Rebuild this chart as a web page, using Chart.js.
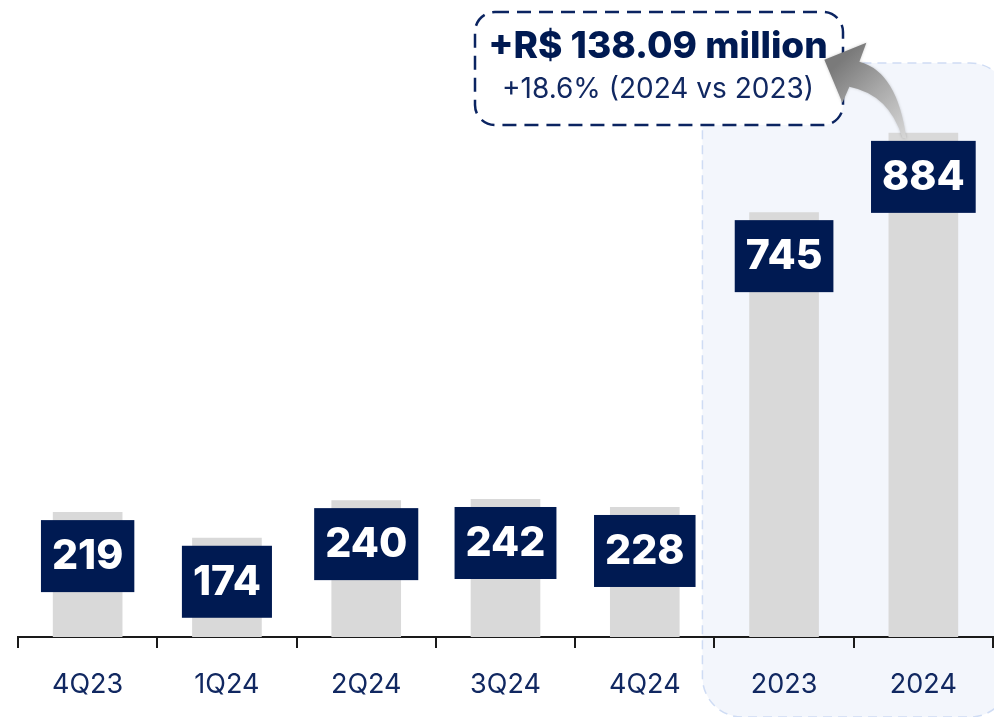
<!DOCTYPE html>
<html>
<head>
<meta charset="utf-8">
<script src="https://cdn.jsdelivr.net/npm/chart.js@4.4.1/dist/chart.umd.min.js"></script>
<style>
  html, body { margin: 0; padding: 0; background: #ffffff; }
  #wrap { width: 994px; height: 717px; position: relative; }
</style>
</head>
<body>
<div id="wrap"><canvas id="chart"></canvas></div>
<script>
// periods and values (R$ million)
const periods = ["4Q23", "1Q24", "2Q24", "3Q24", "4Q24", "2023", "2024"];
const values = [219, 174, 240, 242, 228, 745, 884];
const highlightFrom = 5; // annual columns get the shaded panel
const calloutTitle = "+R$ 138.09 million";
const calloutSub = "+18.6% (2024 vs 2023)";

const NAVY = "#001a52";
const LABEL_NAVY = "#112861";
const FONT = "Inter, 'Noto Sans', sans-serif";

function roundRect(ctx, x, y, w, h, r) {
  ctx.beginPath();
  ctx.moveTo(x + r, y);
  ctx.lineTo(x + w - r, y);
  ctx.arcTo(x + w, y, x + w, y + r, r);
  ctx.lineTo(x + w, y + h - r);
  ctx.arcTo(x + w, y + h, x + w - r, y + h, r);
  ctx.lineTo(x + r, y + h);
  ctx.arcTo(x, y + h, x, y + h - r, r);
  ctx.lineTo(x, y + r);
  ctx.arcTo(x, y, x + r, y, r);
  ctx.closePath();
}

// shaded panel behind the yearly bars (drawn before the axes)
const panelPlugin = {
  id: "panel",
  beforeDraw(chart) {
    const { ctx } = chart;
    const xs = chart.scales.x;
    const edge = (xs.getPixelForValue(highlightFrom - 1) + xs.getPixelForValue(highlightFrom)) / 2;
    const left = edge - 12, top = 63;
    ctx.save();
    roundRect(ctx, left, top, 1010 - left, 717 - top, 40);
    ctx.fillStyle = "#f3f6fc";
    ctx.fill();
    ctx.setLineDash([9, 6]);
    ctx.lineWidth = 1.5;
    ctx.strokeStyle = "#cfdcf4";
    ctx.stroke();
    ctx.restore();
  }
};

// navy value boxes sitting just under each bar top
const valueBoxPlugin = {
  id: "valueBoxes",
  afterDatasetsDraw(chart) {
    const { ctx } = chart;
    const meta = chart.getDatasetMeta(0);
    ctx.save();
    ctx.font = "800 41px " + FONT;
    ctx.textAlign = "center";
    ctx.textBaseline = "middle";
    meta.data.forEach((bar, i) => {
      const txt = String(values[i]);
      const w = ctx.measureText(txt).width + 22;
      const h = 72;
      const top = bar.y + 8;
      ctx.fillStyle = NAVY;
      ctx.fillRect(bar.x - w / 2, top, w, h);
      ctx.fillStyle = "#ffffff";
      ctx.fillText(txt, bar.x, top + h / 2 + 1);
    });
    ctx.restore();
  }
};

// dashed callout with curved arrow rising from the last bar
const calloutPlugin = {
  id: "callout",
  afterDraw(chart) {
    const { ctx } = chart;
    const bar = chart.getDatasetMeta(0).data[values.length - 1];
    const bx = bar.x, by = bar.y;

    // box
    const x0 = 475, y0 = 12, w = 368, h = 113;
    ctx.save();
    roundRect(ctx, x0, y0, w, h, 20);
    ctx.fillStyle = "#ffffff";
    ctx.fill();
    ctx.setLineDash([14, 8]);
    ctx.lineWidth = 2.5;
    ctx.strokeStyle = "#0b2461";
    ctx.stroke();
    ctx.setLineDash([]);
    ctx.textAlign = "center";
    ctx.textBaseline = "middle";
    ctx.fillStyle = NAVY;
    ctx.font = "800 37px " + FONT;
    ctx.fillText(calloutTitle, x0 + w / 2 - 1, 47);
    ctx.fillStyle = LABEL_NAVY;
    ctx.font = "400 28px " + FONT;
    ctx.fillText(calloutSub, x0 + w / 2 - 1, 90);
    ctx.restore();

    // arrow, on top of the box edge
    const p = (dx, dy) => [bx + dx, by + dy];
    ctx.save();
    const g = ctx.createLinearGradient(bx - 85, by - 70, bx - 15, by + 5);
    g.addColorStop(0, "#7a7a7a");
    g.addColorStop(0.45, "#a8a8a8");
    g.addColorStop(1, "#d8d8d8");
    ctx.fillStyle = g;
    ctx.shadowColor = "rgba(0,0,0,0.2)";
    ctx.shadowBlur = 3;
    ctx.beginPath();
    ctx.moveTo(...p(-64, -71));
    ctx.quadraticCurveTo(...p(-26, -61), ...p(-17, 6));
    ctx.lineTo(...p(-21, 5));
    ctx.quadraticCurveTo(...p(-34, -38), ...p(-74, -46));
    ctx.lineTo(...p(-81, -30));
    ctx.lineTo(...p(-99, -73));
    ctx.lineTo(...p(-57, -90));
    ctx.closePath();
    ctx.fill();
    ctx.restore();
  }
};

new Chart(document.getElementById("chart"), {
  type: "bar",
  data: {
    labels: periods,
    datasets: [{
      data: values,
      backgroundColor: "#d9d9d9",
      barPercentage: 0.5,
      categoryPercentage: 1
    }]
  },
  options: {
    responsive: true,
    maintainAspectRatio: false,
    animation: false,
    layout: { padding: { left: 18, right: 1, top: 0, bottom: 17 } },
    plugins: { legend: { display: false }, tooltip: { enabled: false } },
    scales: {
      x: {
        afterFit(scale) { scale.height = 63; },
        grid: { drawOnChartArea: false, drawTicks: true, tickLength: 11, color: "#1a1a1a", lineWidth: 2 },
        border: { display: true, color: "#1a1a1a", width: 2 },
        ticks: { color: LABEL_NAVY, padding: 21, autoSkip: false, maxRotation: 0, font: { family: FONT, size: 27 } }
      },
      y: { display: false, min: 0, max: 1117 }
    }
  },
  plugins: [panelPlugin, valueBoxPlugin, calloutPlugin]
});
</script>
</body>
</html>
